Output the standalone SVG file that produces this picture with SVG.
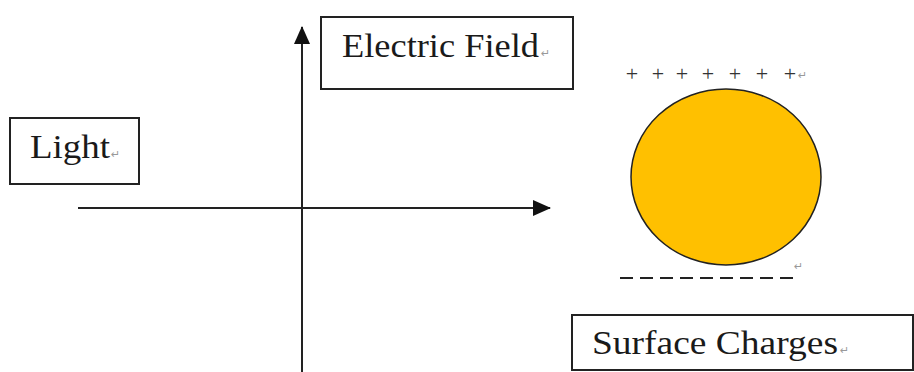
<svg xmlns="http://www.w3.org/2000/svg" width="914" height="372" viewBox="0 0 914 372">
<style>
.box{fill:#fff;stroke:#222;stroke-width:2}
.lbl{font-family:"Liberation Serif","Times New Roman",serif;font-size:33px;fill:#1a1a1a}
.mark{font-family:"DejaVu Sans",sans-serif;font-size:11px;fill:#999}
.axis{stroke:#222;stroke-width:2;fill:none}
.chg{font-family:"Liberation Serif","Times New Roman",serif;font-size:22px;fill:#333;text-anchor:middle}
</style>
<defs>
<marker id="arrH" markerWidth="18" markerHeight="16" refX="17" refY="8" orient="auto" markerUnits="userSpaceOnUse" viewBox="0 0 18 16">
<path d="M0,0 L18,8 L0,16 Z" fill="#111"/>
</marker>
</defs>
<g id="connectors">
<line class="axis" x1="78" y1="208" x2="550" y2="208" marker-end="url(#arrH)"/>
<line class="axis" x1="302" y1="372" x2="302" y2="27" marker-end="url(#arrH)"/>
</g>
<g id="light">
<rect class="box" x="10" y="118" width="129" height="66"/>
<text class="lbl" x="30" y="158" textLength="80" lengthAdjust="spacingAndGlyphs">Light</text>
<text class="mark" x="111" y="158">↵</text>
</g>
<g id="electric-field">
<rect class="box" x="321" y="17" width="252" height="72"/>
<text class="lbl" x="342" y="57" textLength="197" lengthAdjust="spacingAndGlyphs">Electric Field</text>
<text class="mark" x="541" y="57">↵</text>
</g>
<g id="particle">
<text class="chg" x="632 658 682 708 735 762 790" y="81">+++++++</text>
<text class="mark" x="798" y="79">↵</text>
<ellipse cx="726" cy="177" rx="95" ry="88" fill="#FFC000" stroke="#222" stroke-width="1.5"/>
<text class="mark" x="794" y="270">↵</text>
<line x1="620" y1="278" x2="795" y2="278" stroke="#222" stroke-width="2" stroke-dasharray="13 7"/>
</g>
<g id="surface-charges">
<rect class="box" x="572" y="315" width="341" height="55"/>
<text class="lbl" x="592" y="354" textLength="246" lengthAdjust="spacingAndGlyphs">Surface Charges</text>
<text class="mark" x="840" y="354">↵</text>
</g>
</svg>
